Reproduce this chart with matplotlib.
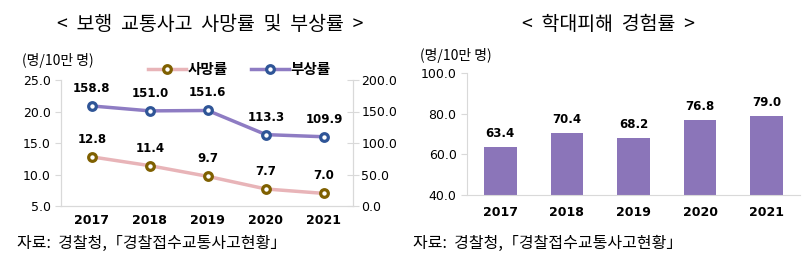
import matplotlib.pyplot as plt
from matplotlib.lines import Line2D

plt.rcParams['font.family'] = ['Noto Sans CJK KR', 'DejaVu Sans']

years = ["2017", "2018", "2019", "2020", "2021"]
death_rate = [12.8, 11.4, 9.7, 7.7, 7.0]
injury_rate = [158.8, 151.0, 151.6, 113.3, 109.9]
abuse_rate = [63.4, 70.4, 68.2, 76.8, 79.0]

SPINE = "#d9d9d9"
NUMFONT = ['DejaVu Sans']

fig = plt.figure(figsize=(8.11, 2.67), dpi=100)

# ---- left: line chart with twin axis
ax = fig.add_axes([61 / 811, 61 / 267, 292 / 811, 126 / 267])
ax2 = ax.twinx()
x = range(len(years))

mk = dict(marker="o", ms=5.5, mfc="white", mew=2.3)
ax.plot(x, death_rate, color="#e8b4b8", lw=2.5, zorder=2)
ax.plot(x, death_rate, ls="none", mec="#7f6000", zorder=3, **mk)
ax2.plot(x, injury_rate, color="#8e7cc3", lw=2.5, zorder=2)
ax2.plot(x, injury_rate, ls="none", mec="#2f5597", zorder=3, **mk)

for i, v in enumerate(death_rate):
    ax.annotate(f"{v:.1f}", (i, v), xytext=(0, 8), textcoords="offset points",
                ha="center", va="bottom", fontsize=8.5, fontweight="bold",
                family=NUMFONT)
for i, v in enumerate(injury_rate):
    ax2.annotate(f"{v:.1f}", (i, v), xytext=(0, 8), textcoords="offset points",
                 ha="center", va="bottom", fontsize=8.5, fontweight="bold",
                 family=NUMFONT)

ax.set_xlim(-0.53, 4.5)
ax.set_ylim(5, 25)
ax.set_yticks([5, 10, 15, 20, 25])
ax.set_yticklabels([f"{t:.1f}" for t in [5, 10, 15, 20, 25]], family=NUMFONT)
ax2.set_ylim(0, 200)
ax2.set_yticks([0, 50, 100, 150, 200])
ax2.set_yticklabels([f"{t:.1f}" for t in [0, 50, 100, 150, 200]], family=NUMFONT)
ax.set_xticks(list(x))
ax.set_xticklabels(years, fontweight="bold", family=NUMFONT)

for a in (ax, ax2):
    for s in a.spines.values():
        s.set_color(SPINE)
    a.spines["top"].set_visible(False)
    a.tick_params(colors=SPINE, labelcolor="black", labelsize=9, length=4)
ax.tick_params(axis="x", length=0, pad=6)
ax2.tick_params(axis="y", direction="inout", length=8, pad=2)

# legend
h1 = Line2D([], [], color="#e8b4b8", lw=2.5, mec="#7f6000", **mk)
h2 = Line2D([], [], color="#8e7cc3", lw=2.5, mec="#2f5597", **mk)
leg = ax.legend([h1, h2], ["사망률", "부상률"], loc="lower center",
                bbox_to_anchor=(0.61, 0.98), ncol=2, frameon=False,
                fontsize=10.5, handlelength=2.6, columnspacing=1.6,
                handletextpad=0.1, borderaxespad=0)
for t in leg.get_texts():
    t.set_fontweight("bold")

fig.text(210 / 811, 1 - 25 / 267, "<  보행  교통사고  사망률  및  부상률  >",
         ha="center", va="center", fontsize=14)
fig.text(22 / 811, 1 - 60 / 267, "(명/10만 명)", ha="left", va="center",
         fontsize=10)
fig.text(17 / 811, 1 - 243 / 267, "자료:  경찰청,「경찰접수교통사고현황」",
         ha="left", va="center", fontsize=11.5)

# ---- right: bar chart
bx = fig.add_axes([467 / 811, 72 / 267, 333 / 811, 122 / 267])
bx.bar(list(x), abuse_rate, width=0.49, color="#8b75b9", zorder=2)
for i, v in enumerate(abuse_rate):
    bx.annotate(f"{v:.1f}", (i, v), xytext=(0, 5), textcoords="offset points",
                ha="center", va="bottom", fontsize=8.5, fontweight="bold",
                family=NUMFONT)
bx.set_xlim(-0.5, 4.5)
bx.set_ylim(40, 100)
bx.set_yticks([40, 60, 80, 100])
bx.set_yticklabels([f"{t:.1f}" for t in [40, 60, 80, 100]], family=NUMFONT)
bx.set_xticks(list(x))
bx.set_xticklabels(years, fontweight="bold", family=NUMFONT)
for s in ["top", "right"]:
    bx.spines[s].set_visible(False)
for s in ["left", "bottom"]:
    bx.spines[s].set_color(SPINE)
bx.tick_params(colors=SPINE, labelcolor="black", labelsize=9, length=4)
bx.tick_params(axis="x", length=0, pad=8)

fig.text(608 / 811, 1 - 25 / 267, "<  학대피해  경험률  >",
         ha="center", va="center", fontsize=14)
fig.text(420 / 811, 1 - 55 / 267, "(명/10만 명)", ha="left", va="center",
         fontsize=10)
fig.text(413 / 811, 1 - 243 / 267, "자료:  경찰청,「경찰접수교통사고현황」",
         ha="left", va="center", fontsize=11.5)

fig.savefig("out.png", dpi=100)
